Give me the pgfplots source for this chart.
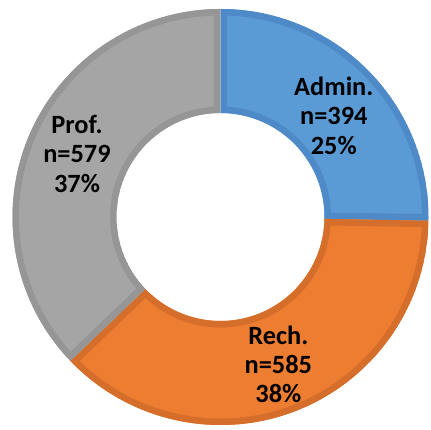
\documentclass[border=0pt]{standalone}
\usepackage{fontspec}
\setmainfont{Carlito}
\usepackage{pgfplots}
\usepackage{pgfplotstable}
\pgfplotsset{compat=1.18}
\definecolor{col0}{RGB}{91,155,213}
\definecolor{brd0}{RGB}{79,138,200}
\definecolor{col1}{RGB}{237,125,49}
\definecolor{brd1}{RGB}{214,110,43}
\definecolor{col2}{RGB}{165,165,165}
\definecolor{brd2}{RGB}{150,150,150}

% dx, dy: small label nudges in px
\pgfplotstableread{
label n pct dx dy
Admin. 394 25 2 -8
Rech. 585 38 1 -2
Prof. 579 37 0 2
}\donutdata

% geometry in px of the 431x429 picture
\def\cx{220.5}
\def\cy{212}
\def\Rout{208}
\def\Rin{104}
\def\unit{0.02cm}

\newcommand\donutslice[1]{%
  \pgfmathsetmacro\aa{\csname sa#1\endcsname}%
  \pgfmathsetmacro\ab{\csname ea#1\endcsname}%
  \def\slicepath{(axis cs:{\cx+\Rout*cos(\aa)},{\cy+\Rout*sin(\aa)})
    arc[start angle=\aa, end angle=\ab, radius=\Rout*\unit]
    -- (axis cs:{\cx+\Rin*cos(\ab)},{\cy+\Rin*sin(\ab)})
    arc[start angle=\ab, end angle=\aa, radius=\Rin*\unit] -- cycle}%
  \begin{scope}[overlay]
    \clip \slicepath;
    \fill[col#1] \slicepath;
    \draw[brd#1, line width=13*\unit, line join=miter] \slicepath;
  \end{scope}
  \pgfmathsetmacro\am{(\aa+\ab)/2}%
  \pgfplotstablegetelem{#1}{label}\of\donutdata\let\lab\pgfplotsretval
  \pgfplotstablegetelem{#1}{n}\of\donutdata\let\nn\pgfplotsretval
  \pgfplotstablegetelem{#1}{pct}\of\donutdata\let\pp\pgfplotsretval
  \pgfplotstablegetelem{#1}{dx}\of\donutdata\let\ddx\pgfplotsretval
  \pgfplotstablegetelem{#1}{dy}\of\donutdata\let\ddy\pgfplotsretval
  \node[align=center, font=\bfseries\fontsize{15}{16.6}\selectfont, text=black]
    at (axis cs:{\cx+156*cos(\am)+\ddx},{\cy+156*sin(\am)+\ddy}) {\lab\\n=\nn\\\pp\%};
}

\begin{document}
\begin{tikzpicture}
% cumulative angles, clockwise from the top
\pgfmathsetmacro\total{0}
\foreach \i in {0,1,2}{%
  \pgfplotstablegetelem{\i}{n}\of\donutdata
  \pgfmathsetmacro\t{\total+\pgfplotsretval}%
  \global\let\total\t
}
\xdef\cur{90}
\foreach \i in {0,1,2}{%
  \pgfplotstablegetelem{\i}{n}\of\donutdata
  \pgfmathsetmacro\e{\cur-360*(\pgfplotsretval/\total)}%
  \expandafter\xdef\csname sa\i\endcsname{\cur}%
  \expandafter\xdef\csname ea\i\endcsname{\e}%
  \xdef\cur{\e}%
}
\begin{axis}[
  hide axis,
  disabledatascaling,
  x=\unit, y=\unit,
  xmin=0, xmax=431, ymin=0, ymax=429,
  clip=false,
]
\addplot[draw=none] coordinates {(0,0) (431,429)};
\pgfplotsinvokeforeach{0,1,2}{\pgfplotsextra{\donutslice{#1}}}
\end{axis}
\end{tikzpicture}
\end{document}
